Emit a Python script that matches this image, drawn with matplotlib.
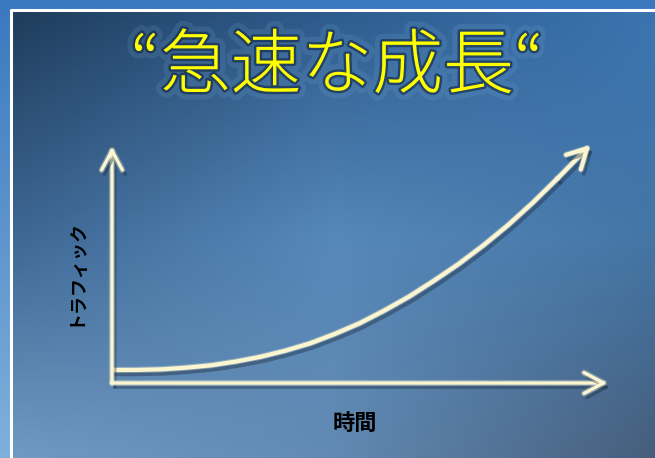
import matplotlib

matplotlib.use("Agg")
import matplotlib.pyplot as plt
import matplotlib.patheffects as pe
import numpy as np

plt.rcParams["font.family"] = ["Noto Sans CJK JP", "DejaVu Sans"]

# values (time vs traffic, arbitrary units 0..10)
time_pts = [0.0, 0.5, 1.0, 1.5, 2.0, 2.5, 3.0, 3.5, 4.0, 4.5, 5.0, 5.5,
            6.0, 6.5, 7.0, 7.5, 8.0, 8.5, 9.0, 9.66]
traffic = [0.55, 0.555, 0.58, 0.65, 0.75, 0.91, 1.11, 1.37, 1.68, 2.08, 2.53, 3.07,
           3.66, 4.33, 5.04, 5.83, 6.69, 7.64, 8.67, 10.08]

title = "\u201c急速な成長\u201c"
x_label = "時間"
y_label = "トラフィック"

W, H = 655, 458
fig = plt.figure(figsize=(W / 100, H / 100), dpi=100)

# background slide
bg = fig.add_axes([0, 0, 1, 1])
bg.set_xlim(0, W)
bg.set_ylim(H, 0)
bg.axis("off")

band = np.linspace(0, 1, 100)[:, None, None]
band_img = (1 - band) * np.array([58, 120, 191]) + band * np.array([128, 176, 220])
bg.imshow(np.repeat(band_img, 2, axis=1).astype(np.uint8), extent=[0, W, H, 0], aspect="auto")

grid = np.array([
    [[31, 61, 92], [46, 92, 142], [58, 116, 176]],
    [[62, 103, 148], [86, 136, 186], [68, 118, 166]],
    [[112, 154, 194], [98, 138, 178], [70, 94, 124]],
], dtype=float)
ny, nx = 200, 300
gy = np.linspace(0, 2, ny)
gx = np.linspace(0, 2, nx)
iy = np.clip(gy.astype(int), 0, 1)
ix = np.clip(gx.astype(int), 0, 1)
fy = (gy - iy)[:, None, None]
fx = (gx - ix)[None, :, None]
c00 = grid[iy][:, ix]
c01 = grid[iy][:, ix + 1]
c10 = grid[iy + 1][:, ix]
c11 = grid[iy + 1][:, ix + 1]
img = (c00 * (1 - fx) * (1 - fy) + c01 * fx * (1 - fy)
       + c10 * (1 - fx) * fy + c11 * fx * fy)
bg.imshow(img.astype(np.uint8), extent=[12, W, H, 11], aspect="auto",
          interpolation="bilinear")
bg.plot([11, 11, W], [H, 9.5, 9.5], color="white", lw=2.2, solid_capstyle="butt")

# chart area
ax = fig.add_axes([112 / W, 1 - 383 / H, 495 / W, 236 / H])
ax.set_xlim(0, 10)
ax.set_ylim(0, 10)
ax.axis("off")

cream = "#fbf5d0"
shadow = [pe.SimpleLineShadow(offset=(2, -3), shadow_color="#1c2a3c", alpha=0.4),
          pe.Stroke(linewidth=4.5, foreground="#fffbe0", alpha=0.3),
          pe.Normal()]

arrow_kw = dict(arrowstyle="->,head_length=1.4,head_width=0.75", color=cream, lw=2.4,
                shrinkA=0, shrinkB=0, mutation_scale=10)
for start, end in [((0, 0), (0, 1)), ((0, 0), (1, 0))]:
    a = ax.annotate("", xy=end, xytext=start, xycoords="axes fraction",
                    textcoords="axes fraction", arrowprops=arrow_kw)
    a.arrow_patch.set_path_effects(shadow)

ax.plot(time_pts[:-1], traffic[:-1], color=cream, lw=3.0, solid_capstyle="round",
        solid_joinstyle="round", path_effects=shadow)
a = ax.annotate("", xy=(time_pts[-1], traffic[-1]), xytext=(time_pts[-2], traffic[-2]),
                arrowprops=dict(arrow_kw, lw=3.0), annotation_clip=False)
a.arrow_patch.set_path_effects(shadow)

fig.text(337 / W, 1 - 68 / H, title, color="#ffff00", fontsize=51, fontweight="light",
         ha="center", va="center",
         path_effects=[pe.Stroke(linewidth=11, foreground="#7fb0e0", alpha=0.15),
                       pe.Stroke(linewidth=3.5, foreground="#0e2440", alpha=0.6),
                       pe.Normal()])
fig.text(355 / W, 1 - 423 / H, x_label, fontsize=16, fontweight="bold", color="black",
         ha="center", va="center")
fig.text(75 / W, 1 - 272 / H, y_label, fontsize=13, fontweight="bold", color="black",
         rotation=90, ha="center", va="center")

fig.savefig("out.png", dpi=100)
